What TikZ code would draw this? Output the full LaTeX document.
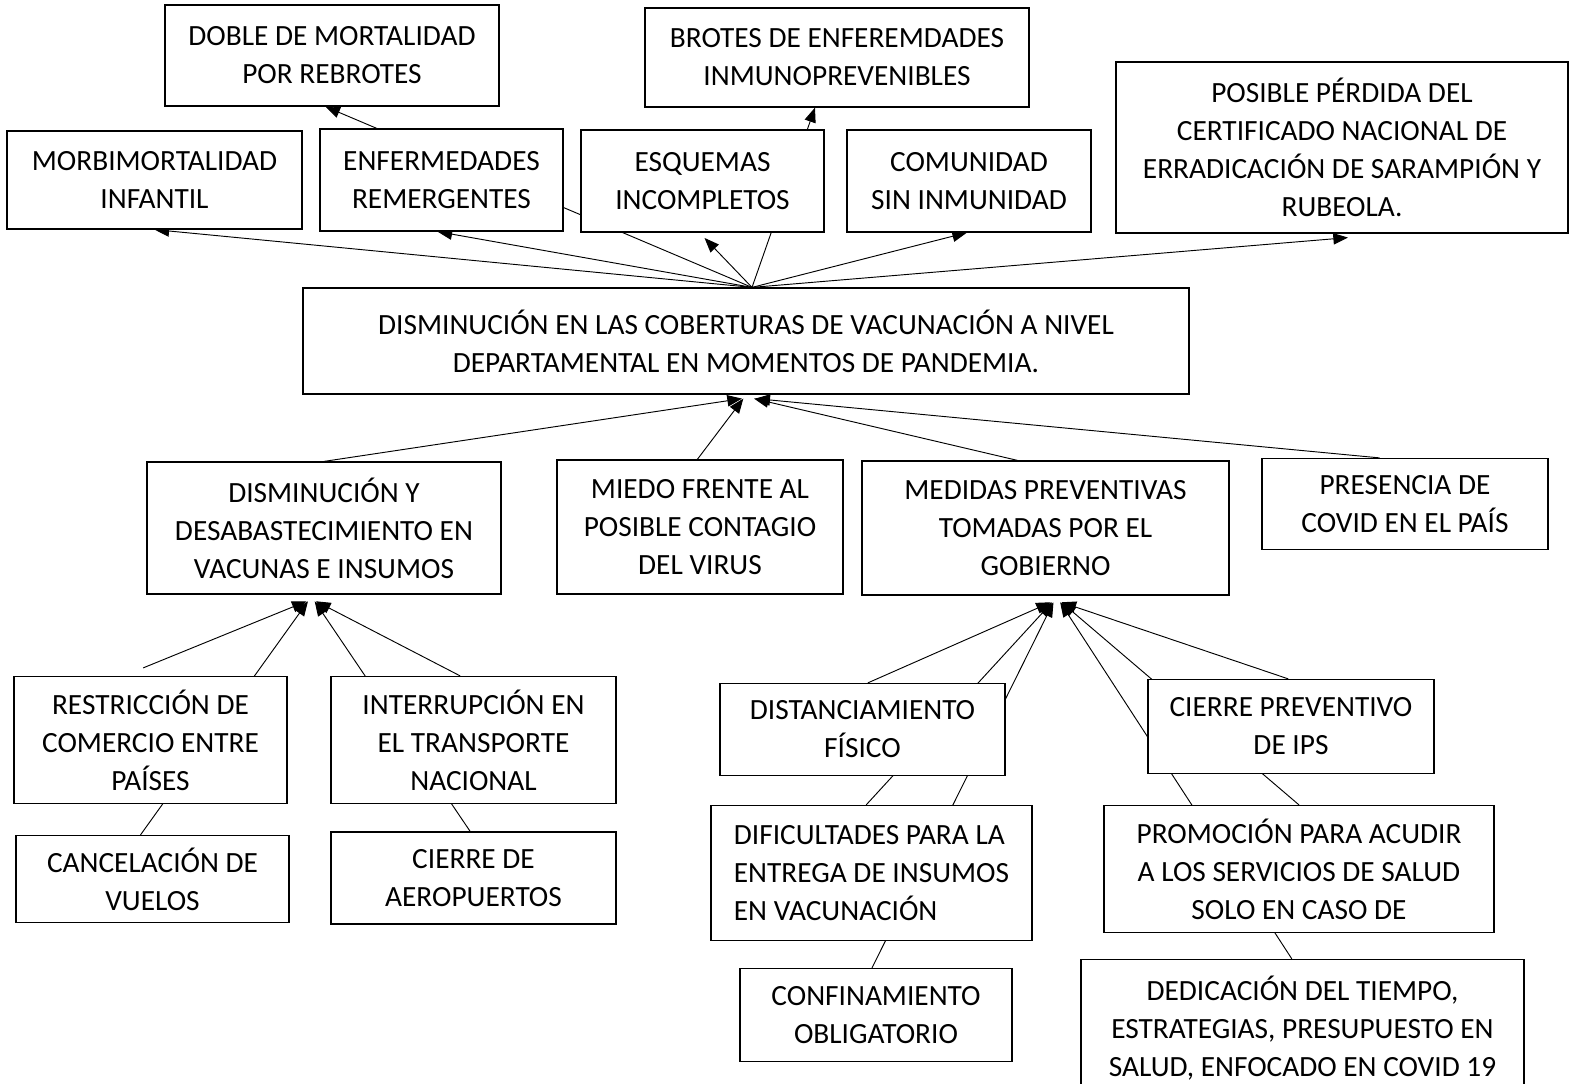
\documentclass[tikz,border=0pt]{standalone}
\usepackage{fontspec}
\setmainfont{Carlito}
\usetikzlibrary{arrows.meta,backgrounds}

\begin{document}
\begin{tikzpicture}[x=0.75pt,y=-0.75pt,
  caja/.style 2 args={draw, fill=white, line width=0.9pt, inner sep=0pt, align=center,
    minimum width=#1*0.75pt, minimum height=#2*0.75pt,
    font=\fontsize{22}{28.5}\selectfont},
  flecha/.style={line width=0.7pt, -{Triangle[length=11pt,width=8.5pt]}}]
\useasboundingbox (0,0) rectangle (1572,1084);

\node[caja={334}{101}] (doble) at (332,55.5) {DOBLE DE MORTALIDAD\\POR REBROTES};
\node[caja={384}{99}] (brotes) at (837,57.5) {BROTES DE ENFEREMDADES\\INMUNOPREVENIBLES};
\node[caja={295}{98}] (morbi) at (154.5,180) {MORBIMORTALIDAD\\INFANTIL};
\node[caja={243}{102}] (enfer) at (441.5,180) {ENFERMEDADES\\REMERGENTES};
\node[caja={243}{102}] (esquemas) at (702.5,181) {ESQUEMAS\\INCOMPLETOS};
\node[caja={244}{102}] (comunidad) at (969,181) {COMUNIDAD\\SIN INMUNIDAD};
\node[caja={452}{171}] (posible) at (1342,147.5) {POSIBLE PÉRDIDA DEL\\CERTIFICADO NACIONAL DE\\ERRADICACIÓN DE SARAMPIÓN Y\\RUBEOLA.};

\node[caja={886}{106}] (centro) at (746,341) {DISMINUCIÓN EN LAS COBERTURAS DE VACUNACIÓN A NIVEL\\DEPARTAMENTAL EN MOMENTOS DE PANDEMIA.};

\node[caja={354}{132}] (dismy) at (324,528) {DISMINUCIÓN Y\\DESABASTECIMIENTO EN\\VACUNAS E INSUMOS};
\node[caja={286}{134}] (miedo) at (700,527) {MIEDO FRENTE AL\\POSIBLE CONTAGIO\\DEL VIRUS};
\node[caja={367}{134}] (medidas) at (1045.5,528) {MEDIDAS PREVENTIVAS\\TOMADAS POR EL\\GOBIERNO};
\node[caja={286}{91}] (presencia) at (1405,504) {PRESENCIA DE\\COVID EN EL PAÍS};

\node[caja={273}{127}] (restriccion) at (150.5,740) {RESTRICCIÓN DE\\COMERCIO ENTRE\\PAÍSES};
\node[caja={285}{127}] (interrupcion) at (473.5,740) {INTERRUPCIÓN EN\\EL TRANSPORTE\\NACIONAL};
\node[caja={273}{87}] (cancelacion) at (152.5,879) {CANCELACIÓN DE\\VUELOS};
\node[caja={285}{92}] (aeropuertos) at (473.5,878) {CIERRE DE\\AEROPUERTOS};

\node[caja={285}{92}] (distanc) at (862.5,729.5) {DISTANCIAMIENTO\\FÍSICO};
\node[caja={286}{94}] (cierreips) at (1291,726.5) {CIERRE PREVENTIVO\\DE IPS};
\node[caja={321}{135}, align=left] (dificultades) at (871.5,873) {DIFICULTADES PARA LA\\ENTREGA DE INSUMOS\\EN VACUNACIÓN};
\node[caja={390}{127}] (promocion) at (1299,869) {PROMOCIÓN PARA ACUDIR\\A LOS SERVICIOS DE SALUD\\SOLO EN CASO DE};
\node[caja={272}{93}] (confinamiento) at (876,1015) {CONFINAMIENTO\\OBLIGATORIO};
\node[caja={443}{137}] (dedicacion) at (1302.5,1028) {DEDICACIÓN DEL TIEMPO,\\ESTRATEGIAS, PRESUPUESTO EN\\SALUD, ENFOCADO EN COVID 19};

\begin{pgfonlayer}{background}
\draw[flecha] ([xshift=4.5pt]centro.north) -- (morbi.south);
\draw[flecha] ([xshift=4.5pt]centro.north) -- ([xshift=-3pt]enfer.south);
\draw[flecha] ([xshift=4.5pt]centro.north) -- ([shift={(1.5pt,-4pt)}]esquemas.south);
\draw[flecha] ([xshift=4.5pt]centro.north) -- ([xshift=-1.5pt]comunidad.south);
\draw[flecha] ([xshift=4.5pt]centro.north) -- ([shift={(4.5pt,-3pt)}]posible.south);
\draw[flecha] ([xshift=4.5pt]centro.north) -- ([xshift=-16.5pt]brotes.south);
\draw[flecha] ([xshift=4.5pt]centro.north) -- ([xshift=-5pt]doble.south);

\draw[flecha] (dismy.north) -- ([shift={(-3pt,-3pt)}]centro.south);
\draw[flecha] ([xshift=-2pt]miedo.north) -- ([shift={(-2pt,-3pt)}]centro.south);
\draw[flecha] ([xshift=-21pt]medidas.north) -- ([shift={(6pt,-3pt)}]centro.south);
\draw[flecha] ([xshift=-19pt]presencia.north) -- ([shift={(7pt,-3pt)}]centro.south);

\draw[flecha] ([shift={(-5.5pt,6pt)}]restriccion.north) -- ([shift={(-13pt,-5pt)}]dismy.south);
\draw[flecha] ([xshift=-9pt]cancelacion.north) -- ([shift={(-12pt,-5pt)}]dismy.south);
\draw[flecha] ([xshift=-2.5pt]aeropuertos.north) -- ([shift={(-7pt,-5pt)}]dismy.south);
\draw[flecha] ([xshift=-10pt]interrupcion.north) -- ([shift={(-6pt,-5pt)}]dismy.south);

\draw[flecha] ([xshift=4pt]distanc.north) -- ([shift={(4pt,-5pt)}]medidas.south);
\draw[flecha] ([xshift=-4pt]dificultades.north) -- ([shift={(5pt,-5pt)}]medidas.south);
\draw[flecha] ([xshift=-3pt]confinamiento.north) -- ([shift={(6pt,-5pt)}]medidas.south);
\draw[flecha] ([xshift=-2pt]cierreips.north) -- ([shift={(12pt,-5pt)}]medidas.south);
\draw[flecha] (promocion.north) -- ([shift={(12pt,-5pt)}]medidas.south);
\draw[flecha] ([xshift=-8pt]dedicacion.north) -- ([shift={(11pt,-5pt)}]medidas.south);
\end{pgfonlayer}
\end{tikzpicture}
\end{document}
